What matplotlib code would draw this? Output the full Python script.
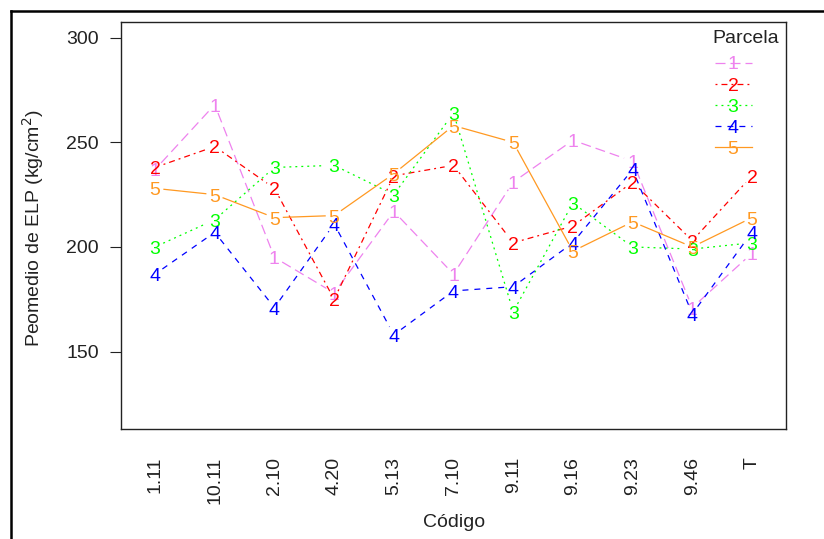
"""
Gráfico de interacción: promedio de ELP por código y parcela
"""
import numpy as np
import matplotlib
matplotlib.use("Agg")
import matplotlib.pyplot as plt
from matplotlib.lines import Line2D
from matplotlib import transforms

plt.rcParams['font.family'] = ['Liberation Sans', 'DejaVu Sans']
plt.rcParams['lines.scale_dashes'] = False

# datos
codigos = ['1.11', '10.11', '2.10', '4.20', '5.13', '7.10', '9.11', '9.16', '9.23', '9.46', 'T']
parcelas = ['1', '2', '3', '4', '5']
parcela_1 = [237, 268, 195, 178, 217, 187, 231, 251, 241, 171, 197]
parcela_2 = [238, 248, 228, 175, 234, 239, 202, 210, 231, 203, 234]
parcela_3 = [200, 213, 238, 239, 225, 264, 169, 221, 200, 199, 202]
parcela_4 = [187, 207, 171, 211, 158, 179, 181, 202, 237, 168, 207]
parcela_5 = [228, 225, 214, 215, 235, 258, 250, 198, 212, 200, 214]
y_ticks = [150, 200, 250, 300]

series = [parcela_1, parcela_2, parcela_3, parcela_4, parcela_5]
colores = ['#EE82EE', '#FF0000', '#00FF00', '#0000FF', '#FF9922']
# tipos de línea: longdash, dotdash, dotted, dashed, solid
estilos = [(0, (7.2, 3.6)), (0, (1.4, 2.9, 4.3, 2.9)), (0, (1.4, 2.9)),
           (0, (4.3, 4.3)), '-']

W, H = 824, 539
fig = plt.figure(figsize=(W / 100, H / 100), dpi=100)
ax = fig.add_axes([121 / W, 1 - 429 / H, (786 - 121) / W, (429 - 22) / H])
ax.set_xlim(0.43, 11.57)
ax.set_ylim(113, 307.5)

xs = np.arange(1, len(codigos) + 1)
gap = 9  # px libres alrededor de cada etiqueta (tipo "b")
to_disp = ax.transData
to_data = ax.transData.inverted()

for vals, col, ls, lab in zip(series, colores, estilos, parcelas):
    pts = to_disp.transform(np.column_stack([xs, vals]))
    for p0, p1 in zip(pts[:-1], pts[1:]):
        d = p1 - p0
        L = np.hypot(*d)
        if L <= 2 * gap:
            continue
        a = p0 + d / L * gap
        b = p1 - d / L * gap
        seg = to_data.transform(np.array([a, b]))
        ax.plot(seg[:, 0], seg[:, 1], color=col, linestyle=ls, lw=0.9)
    off = transforms.offset_copy(ax.transData, fig=fig, y=-5, units='points')
    for x, v in zip(xs, vals):
        ax.text(x, v, lab, color=col, fontsize=14, ha='center', va='baseline',
                transform=off)

ax.set_xticks(xs)
ax.set_xticklabels(codigos, rotation=90)
ax.tick_params(axis='x', length=0, pad=20, labelsize=14, colors='#222222')
ax.set_yticks(y_ticks)
ax.tick_params(axis='y', length=8, width=0.8, pad=8, labelsize=14,
               colors='#222222')
for s in ax.spines.values():
    s.set_linewidth(1.0)
    s.set_color('#222222')

fig.text(33 / W, 1 - 228 / H, 'Peomedio de ELP (kg/cm$^{2}$)', rotation=90,
         ha='center', va='center', fontsize=14, color='#222222')
fig.text(454 / W, 1 - 527 / H, 'Código', ha='center', va='baseline',
         fontsize=14, color='#222222')

# leyenda
fig.text(746 / W, 1 - 43 / H, 'Parcela', ha='center', va='baseline',
         fontsize=14, color='#222222')
ftr = transforms.offset_copy(fig.transFigure, fig=fig, y=-5, units='points')
for i, (col, ls, lab) in enumerate(zip(colores, estilos, parcelas)):
    yy = 1 - (62.5 + 21.1 * i) / H
    fig.add_artist(Line2D([715 / W, 752 / W], [yy, yy], color=col,
                          linestyle=ls, lw=0.9, transform=fig.transFigure))
    fig.text(733 / W, yy, lab, color=col, fontsize=14, ha='center',
             va='baseline', transform=ftr)

# marco exterior
fig.add_artist(Line2D([11 / W, 11 / W], [0, 1 - 11 / H], color='black', lw=1.8,
                      transform=fig.transFigure))
fig.add_artist(Line2D([11 / W, 1], [1 - 11 / H, 1 - 11 / H], color='black',
                      lw=1.8, transform=fig.transFigure))

fig.savefig('out.png', dpi=100)
